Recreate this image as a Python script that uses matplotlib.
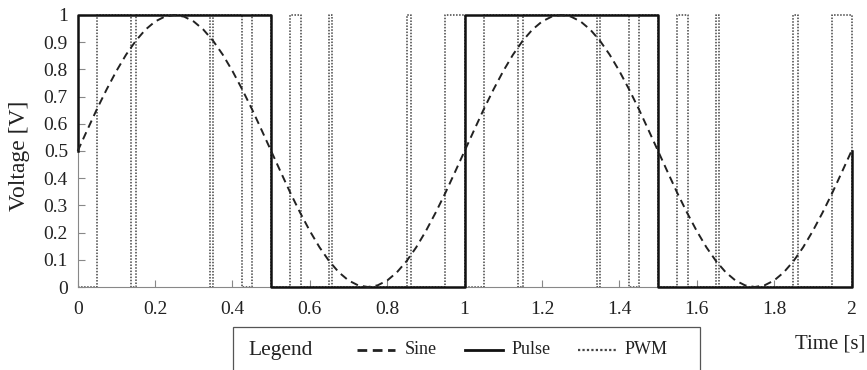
import numpy as np
import matplotlib
matplotlib.use('Agg')
from matplotlib import pyplot as plt
from matplotlib.patches import Rectangle
from matplotlib.lines import Line2D

plt.rcParams['font.family'] = ['Liberation Serif', 'DejaVu Serif']

# sine sampled every 0.025 s, 0..2 s
sine_v = [0.5, 0.578, 0.655, 0.727, 0.794, 0.854, 0.905, 0.946, 0.976, 0.994,
          1.0, 0.994, 0.976, 0.946, 0.905, 0.854, 0.794, 0.727, 0.655, 0.578,
          0.5, 0.422, 0.345, 0.273, 0.206, 0.146, 0.095, 0.054, 0.024, 0.006,
          0.0, 0.006, 0.024, 0.054, 0.095, 0.146, 0.206, 0.273, 0.345, 0.422,
          0.5, 0.578, 0.655, 0.727, 0.794, 0.854, 0.905, 0.946, 0.976, 0.994,
          1.0, 0.994, 0.976, 0.946, 0.905, 0.854, 0.794, 0.727, 0.655, 0.578,
          0.5, 0.422, 0.345, 0.273, 0.206, 0.146, 0.095, 0.054, 0.024, 0.006,
          0.0, 0.006, 0.024, 0.054, 0.095, 0.146, 0.206, 0.273, 0.345, 0.422,
          0.5]

# pulse (square wave) corners
pulse_t = [0, 0, 0.5, 0.5, 1.0, 1.0, 1.5, 1.5, 2.0, 2.0]
pulse_v = [0.5, 1, 1, 0, 0, 1, 1, 0, 0, 0.5]

# pwm switching times and level after each one
pwm_t = [0, 0.05, 0.137, 0.15, 0.342, 0.35, 0.424, 0.45, 0.5, 0.55, 0.577,
         0.65, 0.658, 0.85, 0.862, 0.95, 1.0, 1.05, 1.137, 1.15, 1.342, 1.35,
         1.424, 1.45, 1.5, 1.55, 1.577, 1.65, 1.658, 1.85, 1.862, 1.95, 2.0]
pwm_v = [0, 1, 0, 1, 0, 1, 0, 1, 0, 1, 0, 1, 0, 1, 0, 1, 0,
         1, 0, 1, 0, 1, 0, 1, 0, 1, 0, 1, 0, 1, 0, 1, 0]

xticks = [0, 0.2, 0.4, 0.6, 0.8, 1.0, 1.2, 1.4, 1.6, 1.8, 2.0]
xticklabels = ['0', '0.2', '0.4', '0.6', '0.8', '1', '1.2', '1.4', '1.6', '1.8', '2']
yticks = [0, 0.1, 0.2, 0.3, 0.4, 0.5, 0.6, 0.7, 0.8, 0.9, 1.0]
yticklabels = ['0', '0.1', '0.2', '0.3', '0.4', '0.5', '0.6', '0.7', '0.8', '0.9', '1']

W, H = 867, 370
fig = plt.figure(figsize=(W / 100, H / 100), dpi=100)
ax = fig.add_axes([77.7 / W, 1 - 287 / H, (851.5 - 77.7) / W, (287 - 15) / H])

sine_style = dict(color='#222222', lw=1.4, linestyle=(0, (4, 2.6)))
pulse_style = dict(color='#111111', lw=1.8, linestyle='-')
pwm_style = dict(color='#444444', lw=1.1, linestyle=(0, (1, 1)))

sine_t = np.linspace(0, 2, len(sine_v))
ax.plot(pwm_t, pwm_v, drawstyle='steps-post', clip_on=False, zorder=2, **pwm_style)
ax.plot(pulse_t, pulse_v, clip_on=False, zorder=3, **pulse_style)
ax.plot(sine_t, sine_v, clip_on=False, zorder=4, **sine_style)

ax.set_xlim(0, 2)
ax.set_ylim(0, 1)
ax.set_xticks(xticks)
ax.set_xticklabels(xticklabels)
ax.set_yticks(yticks)
ax.set_yticklabels(yticklabels)
ax.tick_params(axis='both', direction='in', length=5, width=0.8, color='#888888',
               labelsize=14, labelcolor='#222222')
ax.tick_params(axis='x', pad=10)
ax.tick_params(axis='y', pad=7)
for s in ['top', 'right']:
    ax.spines[s].set_visible(False)
for s in ['left', 'bottom']:
    ax.spines[s].set_color('#888888')
    ax.spines[s].set_linewidth(0.8)

fig.text(19.7 / W, 1 - 155.5 / H, 'Voltage [V]', rotation=90, ha='center', va='center',
         fontsize=17, color='#222222')
fig.text(830 / W, 1 - 344 / H, 'Time [s]', ha='center', va='center',
         fontsize=15, color='#222222')

# legend box (runs off the bottom of the figure)
box = Rectangle((233 / W, -0.1), (700 - 233) / W, 0.1 + 1 - 327 / H,
                transform=fig.transFigure, fill=False, ec='#555555', lw=0.9)
fig.add_artist(box)
ly = 1 - 350 / H
fig.text(248 / W, ly, 'Legend', ha='left', va='center', fontsize=15.5, color='#222222')
entries = [('Sine', sine_style, 357, 395, 405),
           ('Pulse', pulse_style, 465, 503, 512),
           ('PWM', pwm_style, 578, 616, 625)]
for name, style, x0, x1, xt in entries:
    st = dict(style)
    if name == 'Sine':
        st['lw'] = 2.0
        st['linestyle'] = (0, (3.5, 2))
    if name == 'Pulse':
        st['lw'] = 2.0
    if name == 'PWM':
        st['lw'] = 1.6
    fig.add_artist(Line2D([x0 / W, x1 / W], [ly, ly], transform=fig.transFigure, **st))
    fig.text(xt / W, ly, name, ha='left', va='center', fontsize=13, color='#222222')

fig.savefig('out.png', dpi=100)
